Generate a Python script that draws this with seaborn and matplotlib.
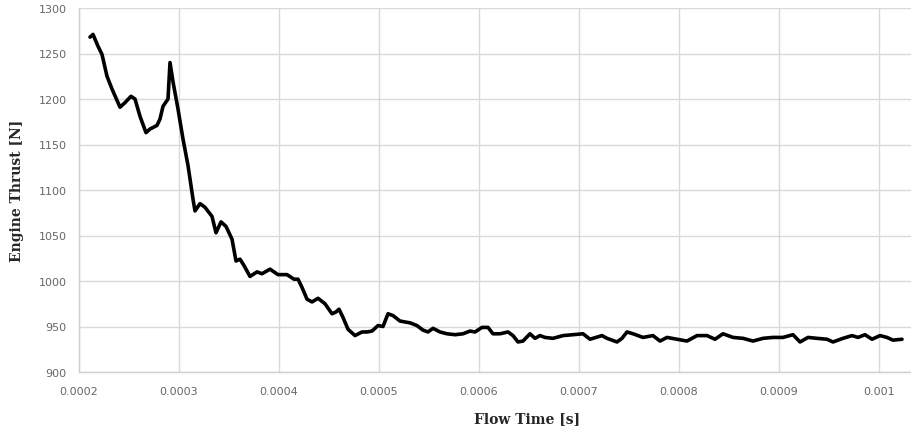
import numpy as np
import pandas as pd
import matplotlib
matplotlib.use("Agg")
import matplotlib.pyplot as plt
import seaborn as sns
from matplotlib.ticker import FuncFormatter, MultipleLocator

# Flow time [s] and engine thrust [N]
flow_time = [
    0.000211, 0.000214, 0.000219, 0.000223, 0.000228, 0.000233, 0.000241, 0.000246,
    0.000252, 0.000256, 0.000261, 0.000267, 0.000271, 0.000278, 0.000281, 0.000284,
    0.000289, 0.000291, 0.000294, 0.000299, 0.000304, 0.000309, 0.000314, 0.000316,
    0.000321, 0.000326, 0.000333, 0.000337, 0.000342, 0.000347, 0.000353, 0.000357,
    0.000361, 0.000365, 0.000371, 0.000378, 0.000383, 0.000391, 0.000399, 0.000408,
    0.000415, 0.000419, 0.000423, 0.000428, 0.000433, 0.000439, 0.000446,
    0.000453, 0.000457, 0.000460, 0.000464, 0.000469, 0.000476, 0.000483, 0.000488,
    0.000493, 0.000499, 0.000504, 0.000509, 0.000514, 0.000521, 0.000531, 0.000538,
    0.000544, 0.000549, 0.000554, 0.000561, 0.000568, 0.000576, 0.000584, 0.000591,
    0.000596, 0.000603, 0.000609, 0.000614, 0.000621, 0.000629, 0.000634, 0.000639,
    0.000644, 0.000651, 0.000656, 0.000661, 0.000666, 0.000674, 0.000684,
    0.000694, 0.000704, 0.000711, 0.000723, 0.000728, 0.000738,
    0.000743, 0.000748, 0.000754, 0.000764,
    0.000774, 0.000781, 0.000788, 0.000798,
    0.000808, 0.000818, 0.000828, 0.000836,
    0.000844, 0.000854, 0.000864, 0.000874,
    0.000884, 0.000894, 0.000904, 0.000914,
    0.000921, 0.000929, 0.000938, 0.000948,
    0.000954, 0.000964, 0.000973, 0.000979,
    0.000986, 0.000993, 0.001001, 0.001008,
    0.001014, 0.001023,
]
thrust = [
    1268, 1271, 1258, 1249, 1225, 1211, 1191, 1196,
    1203, 1200, 1181, 1163, 1167, 1171, 1178, 1192,
    1200, 1240, 1219, 1189, 1156, 1127, 1090, 1077,
    1085, 1081, 1071, 1053, 1065, 1060, 1046, 1022,
    1024, 1017, 1005, 1010, 1008, 1013, 1007, 1007,
    1002, 1002, 993, 980, 977, 981, 975,
    964, 966, 969, 960, 947, 940, 944, 944,
    945, 951, 950, 964, 962, 956, 954, 951,
    946, 944, 948, 944, 942, 941, 942, 945,
    944, 949, 949, 942, 942, 944, 940, 933,
    934, 942, 937, 940, 938, 937, 940,
    941, 942, 936, 940, 937, 933,
    937, 944, 942, 938,
    940, 934, 938, 936,
    934, 940, 940, 936,
    942, 938, 937, 934,
    937, 938, 938, 941,
    933, 938, 937, 936,
    933, 937, 940, 938,
    941, 936, 940, 938,
    935, 936,
]

df = pd.DataFrame({"Flow Time [s]": flow_time, "Engine Thrust [N]": thrust})

sns.set_style("whitegrid")
fig = plt.figure(figsize=(9.12, 4.35), dpi=100)
ax = fig.add_axes([79 / 912, 62 / 435, 1 - 79 / 912, 364 / 435])

sns.lineplot(data=df, x="Flow Time [s]", y="Engine Thrust [N]", ax=ax,
             color="black", linewidth=2.6, sort=False)

ax.set_xlim(0.0002, 0.001033)
ax.set_ylim(900, 1300)
ax.xaxis.set_major_locator(MultipleLocator(0.0001))
ax.yaxis.set_major_locator(MultipleLocator(50))
ax.xaxis.set_major_formatter(FuncFormatter(lambda v, p: f"{v:.4f}".rstrip("0")))
ax.yaxis.set_major_formatter(FuncFormatter(lambda v, p: f"{v:.0f}"))

ax.grid(True, color="#d9d9d9", linewidth=1.0)
for side in ("top", "right"):
    ax.spines[side].set_visible(False)
for side in ("left", "bottom"):
    ax.spines[side].set_color("#d0d0d0")
    ax.spines[side].set_linewidth(1.0)

ax.tick_params(axis="both", length=0, labelsize=8, labelcolor="#666666")
ax.tick_params(axis="x", pad=10)
ax.tick_params(axis="y", pad=9)

label_font = dict(family="DejaVu Serif", weight="bold", size=10, color="#262626")
ax.set_xlabel("Flow Time [s]", **label_font)
ax.set_ylabel("Engine Thrust [N]", labelpad=10, **label_font)
# x title sits centred under the full chart area
ax.xaxis.set_label_coords((527 - 79) / (912 - 79), -0.107)

fig.savefig("out.png", dpi=100)
